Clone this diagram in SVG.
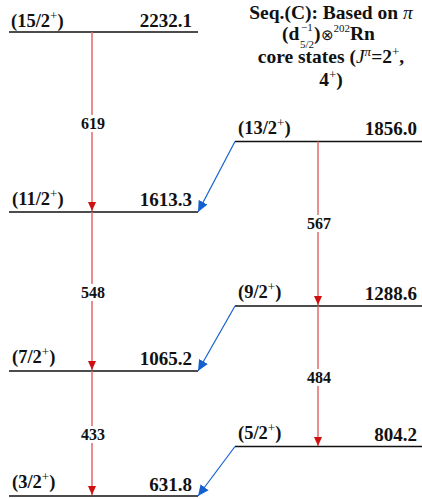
<svg xmlns="http://www.w3.org/2000/svg" width="422" height="499" viewBox="0 0 422 499">
<style>
text{font-family:"Liberation Serif","Times New Roman",serif;font-weight:bold;font-size:18px;fill:#111}
.lvl{stroke:#111;stroke-width:1.4}
.g{stroke:#e36a6a;stroke-width:1.5}
.b{stroke:#1560d0;stroke-width:1.2;fill:none}
.lab{text-anchor:middle;font-size:16px}
.e{text-anchor:end;font-size:19px}
.s{font-size:18.5px}
.sup{font-size:13px;font-weight:normal}
.t{font-size:19.5px}
.sm{font-size:11px;font-weight:normal}
</style>
<defs>
<marker id="ar" markerWidth="10" markerHeight="10" refX="9" refY="5" orient="auto" markerUnits="userSpaceOnUse"><path d="M0,1 L9,5 L0,9 Z" fill="#d01010"/></marker>
<marker id="ab" markerWidth="12" markerHeight="12" refX="11" refY="6" orient="auto" markerUnits="userSpaceOnUse"><path d="M0,1 L11,6 L0,11 Z" fill="#1560d0"/></marker>
</defs>
<g id="title">
<text class="t" x="331" y="19" text-anchor="middle">Seq.(C): Based on <tspan font-style="italic" font-weight="normal">π</tspan></text>
<text class="t" x="282" y="40">(d<tspan class="sm" x="300" y="48">5/2</tspan><tspan class="sm" x="301" y="31">−1</tspan><tspan x="314" y="40">)</tspan><tspan font-weight="normal" font-size="15">⊗</tspan><tspan class="sm" font-size="12" y="32">202</tspan><tspan y="40">Rn</tspan></text>
<text class="t" x="331" y="63" text-anchor="middle">core states (<tspan font-style="italic" font-weight="normal">J</tspan><tspan font-size="13" font-style="italic" font-weight="normal" dy="-7">π</tspan><tspan dy="7">=2</tspan><tspan class="sup" dy="-7">+</tspan><tspan dy="7">,</tspan></text>
<text class="t" x="331" y="86" text-anchor="middle">4<tspan class="sup" dy="-7">+</tspan><tspan dy="7">)</tspan></text>
</g>
<g id="L2232">
<line class="lvl" x1="9" y1="32" x2="198" y2="32"/>
<text class="s" x="11" y="27">(15/2<tspan class="sup" dy="-7">+</tspan><tspan dy="7">)</tspan></text>
<text class="e" x="192" y="27">2232.1</text>
</g>
<g id="L1613">
<line class="lvl" x1="9" y1="212" x2="198" y2="212"/>
<text class="s" x="12" y="205">(11/2<tspan class="sup" dy="-7">+</tspan><tspan dy="7">)</tspan></text>
<text class="e" x="192" y="206">1613.3</text>
</g>
<g id="L1065">
<line class="lvl" x1="9" y1="371" x2="198" y2="371"/>
<text class="s" x="12" y="363">(7/2<tspan class="sup" dy="-7">+</tspan><tspan dy="7">)</tspan></text>
<text class="e" x="192" y="365">1065.2</text>
</g>
<g id="L631">
<line class="lvl" x1="9" y1="496" x2="198" y2="496"/>
<text class="s" x="12" y="488">(3/2<tspan class="sup" dy="-7">+</tspan><tspan dy="7">)</tspan></text>
<text class="e" x="192" y="491">631.8</text>
</g>
<g id="L1856">
<line class="lvl" x1="235" y1="141.5" x2="422" y2="141.5"/>
<text class="s" x="238" y="134">(13/2<tspan class="sup" dy="-7">+</tspan><tspan dy="7">)</tspan></text>
<text class="e" x="417" y="135">1856.0</text>
</g>
<g id="L1288">
<line class="lvl" x1="235" y1="306" x2="422" y2="306"/>
<text class="s" x="238" y="298">(9/2<tspan class="sup" dy="-7">+</tspan><tspan dy="7">)</tspan></text>
<text class="e" x="417" y="300">1288.6</text>
</g>
<g id="L804">
<line class="lvl" x1="235" y1="446.5" x2="422" y2="446.5"/>
<text class="s" x="238" y="439">(5/2<tspan class="sup" dy="-7">+</tspan><tspan dy="7">)</tspan></text>
<text class="e" x="417" y="441">804.2</text>
</g>
<g id="connectors">
<line class="g" x1="92" y1="32" x2="92" y2="211" marker-end="url(#ar)"/>
<line class="g" x1="92" y1="212" x2="92" y2="370" marker-end="url(#ar)"/>
<line class="g" x1="92" y1="371" x2="92" y2="495" marker-end="url(#ar)"/>
<line class="g" x1="318" y1="141.5" x2="318" y2="305" marker-end="url(#ar)"/>
<line class="g" x1="318" y1="306" x2="318" y2="446" marker-end="url(#ar)"/>
<path class="b" d="M235,141.5 L198,212" marker-end="url(#ab)"/>
<path class="b" d="M235,306 L198,371" marker-end="url(#ab)"/>
<path class="b" d="M235,446.5 L198,496" marker-end="url(#ab)"/>
<rect x="80" y="115" width="26" height="17" fill="#fff"/>
<text class="lab" x="93" y="129">619</text>
<rect x="80" y="284" width="26" height="17" fill="#fff"/>
<text class="lab" x="93" y="298">548</text>
<rect x="80" y="426" width="26" height="17" fill="#fff"/>
<text class="lab" x="93" y="440">433</text>
<rect x="306" y="215" width="26" height="17" fill="#fff"/>
<text class="lab" x="319" y="229">567</text>
<rect x="306" y="369" width="26" height="17" fill="#fff"/>
<text class="lab" x="319" y="383">484</text>
</g>
</svg>
